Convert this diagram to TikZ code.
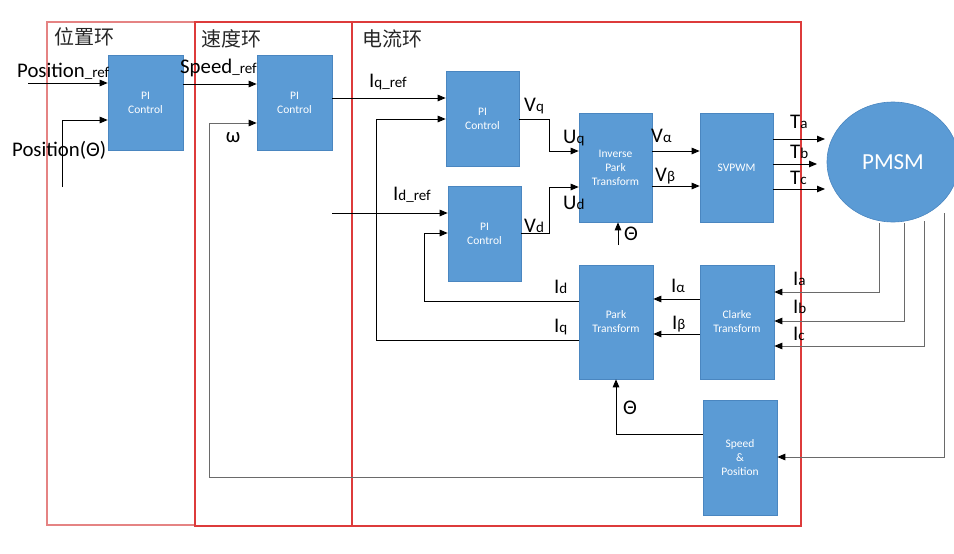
\documentclass[tikz,border=0pt]{standalone}
\usepackage{fontspec}
\setmainfont{Carlito}
\newfontfamily\cjk{Noto Sans CJK SC}
\usetikzlibrary{arrows.meta,shapes.geometric}
\definecolor{blkfill}{HTML}{5B9BD5}
\definecolor{blkdraw}{HTML}{4A86C0}
\definecolor{frA}{HTML}{E58383}
\definecolor{frB}{HTML}{DD3B3B}
\definecolor{fbgray}{HTML}{6A6A6A}
\newcommand\mysub[2]{#1{\fontsize{15}{15}\selectfont #2}}
\tikzset{
  blk/.style={rectangle,fill=blkfill,draw=blkdraw,line width=0.6pt,text=white,
    font=\fontsize{11.5}{14}\selectfont,align=center,inner sep=0pt},
  arr/.style={-{Triangle[length=8pt,width=6.5pt]},line width=0.9pt,black},
  garr/.style={-{Triangle[length=8pt,width=6.5pt,color=black]},line width=0.9pt,fbgray},
  lab/.style={anchor=base west,inner sep=0pt,font=\fontsize{20.8}{21}\selectfont},
  cjklab/.style={anchor=west,inner sep=0pt,font=\cjk\fontsize{20}{20}\selectfont,text=black!85},
  frameA/.style={draw=frA,line width=1.2pt},
  frameB/.style={draw=frB,line width=1.2pt}
}
\begin{document}
\begin{tikzpicture}[x=1pt,y=-1pt]
\useasboundingbox (0,0) rectangle (954,554);
% frames
\draw[frameA] (47,22) rectangle (195,525);
\draw[frameB] (195,22) rectangle (352,526);
\draw[frameB] (352,22) rectangle (801,526);
\node[cjklab] (t1) at (54,37) {位置环};
\node[cjklab] (t2) at (201,39) {速度环};
\node[cjklab] (t3) at (362,39) {电流环};
% blocks
\node[blk,minimum width=75pt,minimum height=95pt] (pi1) at (145.5,102.5) {PI\\Control};
\node[blk,minimum width=75pt,minimum height=95pt] (pi2) at (294.5,102.5) {PI\\Control};
\node[blk,minimum width=73pt,minimum height=95pt] (pi3) at (482.5,118.5) {PI\\Control};
\node[blk,minimum width=73pt,minimum height=95pt] (pi4) at (484.5,233.5) {PI\\Control};
\node[blk,minimum width=73pt,minimum height=109pt] (ipark) at (615.5,167.5) {Inverse\\Park\\Transform};
\node[blk,minimum width=73pt,minimum height=109pt] (svpwm) at (736.5,167.5) {SVPWM};
\node[blk,minimum width=74pt,minimum height=114pt] (park) at (616,322) {Park\\Transform};
\node[blk,minimum width=74pt,minimum height=114pt] (clarke) at (737,322) {Clarke\\Transform};
\node[blk,minimum width=74pt,minimum height=115pt] (sp) at (740,457.5) {Speed\\\&\\Position};
\node[ellipse,fill=blkfill,draw=blkdraw,line width=0.6pt,minimum width=132pt,minimum height=120pt,inner sep=0pt,text=white,font=\fontsize{23}{23}\selectfont] (pmsm) at (893,162) {PMSM};
% position loop
\coordinate (posref) at (28,83);
\draw[arr] (posref) -- (pi1.west |- posref);
\node[lab] (lposref) at (17,77) {\mysub{Position}{\_ref}};
\coordinate (postheta) at (62,187);
\draw[arr] (postheta) -- (62,120) -- (pi1.west |- 62,120);
\node[lab] (lpostheta) at (12,156) {Position(Θ)};
% speed loop
\draw[arr] (pi1.east |- 0,84) -- (pi2.west |- 0,84);
\node[lab] (lspref) at (180,73) {\mysub{Speed}{\_ref}};
\draw[garr] (sp.west |- 0,477) -- (209,477) -- (209,123) -- (pi2.west |- 0,123);
\node[lab,anchor=center] (lomega) at (233,138) {ω};
% current loop references
\draw[arr] (pi2.east |- 0,98) -- (pi3.west |- 0,98);
\node[lab] (liqref) at (369,87) {\mysub{I}{q\_ref}};
\coordinate (idref) at (332,213);
\draw[arr] (idref) -- (pi4.west |- idref);
\node[lab] (lidref) at (393,200) {\mysub{I}{d\_ref}};
% feedback Id Iq
\draw[arr] (park.west |- 0,340) -- (376,340) -- (376,119) -- (pi3.west |- 0,119);
\node[lab] (liq) at (554,332) {\mysub{I}{q}};
\draw[arr] (park.west |- 0,301) -- (424,301) -- (424,233) -- (pi4.west |- 0,233);
\node[lab] (lid) at (554,293) {\mysub{I}{d}};
% PI outputs to inverse park
\draw[arr] (pi3.east |- 0,119) -- (549,119) -- (549,151) -- (ipark.west |- 0,151);
\node[lab] (lvq) at (524,111) {\mysub{V}{q}};
\node[lab] (luq) at (563,143) {\mysub{U}{q}};
\draw[arr] (pi4.east |- 0,233) -- (549,233) -- (549,187) -- (ipark.west |- 0,187);
\node[lab] (lvd) at (524,232) {\mysub{V}{d}};
\node[lab] (lud) at (563,209) {\mysub{U}{d}};
\coordinate (th1) at (618,245);
\draw[arr] (th1) -- (th1 |- ipark.south);
\node[lab,anchor=center] (lth1) at (631,234) {Θ};
% inverse park to svpwm
\draw[arr] (ipark.east |- 0,151) -- (svpwm.west |- 0,151);
\node[lab] (lva) at (651,142) {\mysub{V}{α}};
\draw[arr] (ipark.east |- 0,186) -- (svpwm.west |- 0,186);
\node[lab] (lvb) at (655,181) {\mysub{V}{β}};
% svpwm to pmsm
\coordinate (ta) at (825,139);
\coordinate (tb) at (817,164);
\coordinate (tc) at (825,189);
\draw[arr] (svpwm.east |- ta) -- (ta);
\draw[arr] (svpwm.east |- tb) -- (tb);
\draw[arr] (svpwm.east |- tc) -- (tc);
\node[lab] (lta) at (790,128) {\mysub{T}{a}};
\node[lab] (ltb) at (790,158) {\mysub{T}{b}};
\node[lab] (ltc) at (790,184) {\mysub{T}{c}};
% pmsm feedback
\coordinate (fa) at (879,223);
\coordinate (fb) at (904,223);
\coordinate (fc) at (924,221);
\coordinate (fs) at (944,213);
\draw[garr] (fa) -- (fa |- 0,292) -- (clarke.east |- 0,292);
\draw[garr] (fb) -- (fb |- 0,321) -- (clarke.east |- 0,321);
\draw[garr] (fc) -- (fc |- 0,346) -- (clarke.east |- 0,346);
\draw[garr] (fs) -- (fs |- 0,457) -- (sp.east |- 0,457);
\node[lab] (lia) at (793,285) {\mysub{I}{a}};
\node[lab] (lib) at (793,313) {\mysub{I}{b}};
\node[lab] (lic) at (793,340) {\mysub{I}{c}};
% clarke to park
\draw[arr] (clarke.west |- 0,299) -- (park.east |- 0,299);
\node[lab] (lia2) at (671,292) {\mysub{I}{α}};
\draw[arr] (clarke.west |- 0,334) -- (park.east |- 0,334);
\node[lab] (lib2) at (672,329) {\mysub{I}{β}};
% theta to park
\draw[arr] (sp.west |- 0,434) -| (park.south);
\node[lab,anchor=center] (lth2) at (630,408) {Θ};
\end{tikzpicture}
\end{document}
